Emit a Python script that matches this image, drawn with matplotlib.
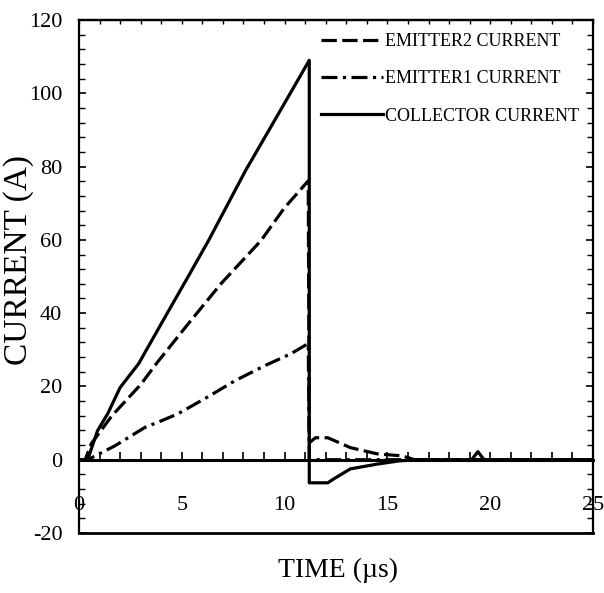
import matplotlib.pyplot as plt
from matplotlib.ticker import MultipleLocator

plt.rcParams['font.family'] = ['Liberation Serif', 'DejaVu Serif']
plt.rcParams['axes.unicode_minus'] = False

# collector current (solid)
t_col = [0, 0.3, 0.45, 0.9, 1.4, 2.0, 2.9, 4.0, 5.2, 6.3, 8.1, 9.7, 11.2,
         11.2, 12.1, 12.4, 13.2, 14.5, 15.6, 16.5, 19.1, 19.4, 19.7, 25]
i_col = [0, 0, 0.5, 7.9, 12.6, 19.7, 26.2, 37.1, 48.9, 59.8, 78.9, 94.4, 109,
         -6.3, -6.3, -5.2, -2.5, -1.2, -0.3, 0, 0, 2.2, 0, 0]

# emitter2 current (dashed)
t_e2 = [0, 0.3, 0.6, 1.6, 3.0, 3.8, 5.3, 6.9, 8.85, 10.0, 11.15,
        11.2, 11.5, 12.1, 13.2, 14.5, 15.6, 16.0, 16.3, 25]
i_e2 = [0, 0, 4.4, 12.0, 20.5, 26.5, 37.0, 48.0, 59.8, 68.8, 76.1,
        4.6, 6.0, 6.0, 3.3, 1.6, 1.1, 0.6, 0, 0]

# emitter1 current (dash-dot)
t_e1 = [0, 0.4, 0.6, 1.75, 3.2, 4.0, 4.8, 6.1, 7.6, 9.05, 10.3, 11.15,
        11.2, 25]
i_e1 = [0, 0, 0.5, 3.8, 8.8, 10.6, 12.5, 16.6, 21.6, 25.7, 28.9, 31.7,
        0, 0]

x_ticks = [0, 5, 10, 15, 20, 25]
y_ticks = [-20, 0, 20, 40, 60, 80, 100, 120]

fig = plt.figure(figsize=(6.04, 5.93), dpi=100)
ax = fig.add_axes([79/604, 60/593, 514/604, 513/593])

ax.plot(t_e2, i_e2, color='k', lw=2.3, dashes=(4.8, 1.7), label='EMITTER2 CURRENT')
ax.plot(t_e1, i_e1, color='k', lw=2.3, dashes=(5, 1.7, 1, 1.7), label='EMITTER1 CURRENT')
ax.plot(t_col, i_col, color='k', lw=2.3, label='COLLECTOR CURRENT')

ax.set_xlim(0, 25)
ax.set_ylim(-20, 120)

# x axis drawn along zero line
ax.spines['bottom'].set_position(('data', 0))
ax.spines['bottom'].set_linewidth(2.2)
for s in ['left', 'top', 'right']:
    ax.spines[s].set_linewidth(1.6)
ax.axhline(-20, color='k', lw=2.0, clip_on=False)

ax.set_xticks(x_ticks)
ax.xaxis.set_minor_locator(MultipleLocator(1))
ax.tick_params(axis='x', which='both', direction='in', length=6, width=1.2,
               pad=26, labelsize=16)
ax.set_yticks(y_ticks)
ax.yaxis.set_minor_locator(MultipleLocator(4))
ax.tick_params(axis='y', which='major', direction='in', length=5, width=1.2,
               pad=12, labelsize=16, right=True)
ax.tick_params(axis='y', which='minor', direction='in', length=4, width=1.0,
               right=True)

top = ax.secondary_xaxis('top')
top.set_xticks([])
top.xaxis.set_minor_locator(MultipleLocator(1))
top.tick_params(which='minor', direction='in', length=3, width=1.0)
top.spines['top'].set_linewidth(1.6)

ax.set_xlabel('TIME (\u00b5s)', fontsize=20, va='center')
ax.xaxis.set_label_coords(0.504, -0.072)
ax.set_ylabel('CURRENT (A)', fontsize=24, va='center')
ax.yaxis.set_label_coords(-0.118, 0.532)

ax.legend(loc='upper right', bbox_to_anchor=(0.972, 0.975), frameon=False,
          fontsize=13, handlelength=3.4, handletextpad=0.1, labelspacing=1.13,
          borderpad=0, borderaxespad=0)

fig.savefig('out.png', dpi=100)
